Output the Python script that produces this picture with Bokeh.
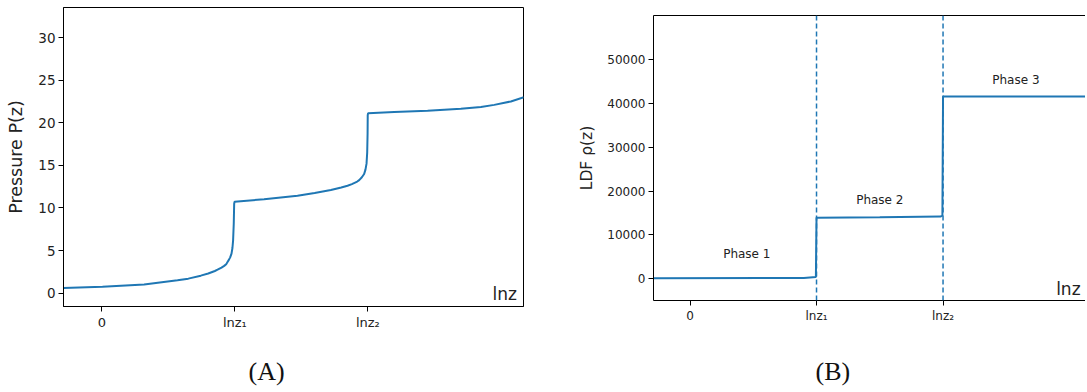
from bokeh.plotting import figure
from bokeh.layouts import row, column
from bokeh.models import FixedTicker, Span, Label, LinearAxis, Range1d, Title
from bokeh.embed import file_html
from bokeh.resources import INLINE
from bokeh.core.properties import value

# ---------------- data ----------------
# x positions expressed in tick units: 0, lnz1, lnz2
x_tick_values = [0, 1, 2]
x_tick_labels = ["0", "lnz\u2081", "lnz\u2082"]

# Panel A: pressure P(z)
a_x = [-0.288, 0.005, 0.318, 0.569, 0.650, 0.744, 0.800, 0.850, 0.870, 0.900,
       0.920, 0.935, 0.945, 0.955, 0.965, 0.975, 0.982, 0.987, 0.992, 0.995,
       0.998, 1.220, 1.471, 1.600, 1.722, 1.800, 1.847, 1.880, 1.900, 1.920,
       1.935, 1.955, 1.972, 1.982, 1.990, 1.995, 1.998, 1.999, 2.002, 2.198,
       2.449, 2.699, 2.850, 2.950, 3.075, 3.173]
a_p = [0.59, 0.75, 1.02, 1.50, 1.70, 2.05, 2.30, 2.60, 2.75, 3.00,
       3.20, 3.40, 3.65, 3.90, 4.20, 4.64, 5.30, 6.20, 8.20, 10.50,
       10.72, 11.03, 11.43, 11.75, 12.10, 12.40, 12.60, 12.80, 12.95, 13.10,
       13.27, 13.60, 13.98, 14.50, 15.20, 16.50, 18.80, 20.90, 21.13, 21.25,
       21.40, 21.64, 21.85, 22.10, 22.50, 23.00]
a_y_ticks = [0, 5, 10, 15, 20, 25, 30]

# Panel B: LDF rho(z)
b_x = [-0.286, 0.900, 0.995, 1.000, 1.500, 1.980, 1.995, 2.000, 3.200]
b_rho = [150, 200, 400, 13950, 14050, 14200, 14400, 41600, 41600]
b_y_ticks = [0, 10000, 20000, 30000, 40000, 50000]
phase_names = ["Phase 1", "Phase 2", "Phase 3"]
phase_x = [0.449, 1.50, 2.576]
phase_y = [5550, 17900, 45400]
transition_x = [1, 2]

BLUE = "#1f77b4"
TXT = "#222222"
FONT = "DejaVu Sans"
SERIF = "Liberation Serif"


def style_axis(ax, size):
    ax.major_tick_out = 5
    ax.major_tick_in = 0
    ax.minor_tick_out = 0
    ax.minor_tick_in = 0
    ax.axis_line_color = "black"
    ax.major_tick_line_color = "black"
    ax.major_label_text_color = TXT
    ax.major_label_text_font = FONT
    ax.major_label_text_font_size = size
    ax.major_label_standoff = 3
    ax.axis_label_text_font = FONT
    ax.axis_label_text_font_style = "normal"
    ax.axis_label_text_color = TXT


def spacer_axis(depth):
    # invisible axis used only to push the caption down
    return LinearAxis(ticker=FixedTicker(ticks=[1]), major_tick_out=depth,
                      major_tick_in=0, minor_tick_out=0, minor_tick_in=0,
                      major_label_standoff=0, major_tick_line_alpha=0,
                      axis_line_alpha=0, major_label_overrides={1: ""},
                      major_label_text_font_size="0px")


# ---------------- Panel A ----------------
pA = figure(width=560, height=390, output_backend="svg", toolbar_location=None,
            x_range=Range1d(-0.288, 3.17), y_range=Range1d(-1.57, 33.53),
            min_border_left=63, min_border_right=37, min_border_top=7,
            min_border_bottom=84)
pA.outline_line_color = "black"
pA.outline_line_alpha = 1
pA.xgrid.visible = False
pA.ygrid.visible = False
pA.line(a_x, a_p, line_color=BLUE, line_width=2)
style_axis(pA.xaxis[0], "13px")
style_axis(pA.yaxis[0], "13.5px")
pA.xaxis[0].ticker = FixedTicker(ticks=x_tick_values)
pA.xaxis[0].major_label_overrides = dict(zip(x_tick_values, x_tick_labels))
pA.yaxis[0].ticker = FixedTicker(ticks=a_y_ticks)
pA.yaxis[0].axis_label = "Pressure P(z)"
pA.yaxis[0].axis_label_text_font_size = "17.5px"
pA.yaxis[0].axis_label_standoff = 9
pA.add_layout(Label(x=3.12, y=-0.05, text="lnz", text_align="right",
                    text_baseline="alphabetic", text_font=FONT,
                    text_font_size="17px", text_color=TXT))
pA.add_layout(spacer_axis(18), "below")
pA.add_layout(Title(text="(A)", align="left", offset=185, standoff=8,
                    text_font=SERIF, text_font_size="26px",
                    text_font_style="normal", text_color="#111111"), "below")

# ---------------- Panel B ----------------
pB = figure(width=525, height=390, output_backend="svg", toolbar_location=None,
            x_range=Range1d(-0.2885, 3.126), y_range=Range1d(-4950, 60050),
            min_border_left=93, min_border_right=0, min_border_top=15,
            min_border_bottom=90)
pB.outline_line_color = None
pB.xgrid.visible = False
pB.ygrid.visible = False
pB.line(b_x, b_rho, line_color=BLUE, line_width=2)
for xv in transition_x:
    pB.add_layout(Span(location=xv, dimension="height", line_color=BLUE,
                       line_dash="5 3", line_width=1.5))
style_axis(pB.xaxis[0], "12px")
style_axis(pB.yaxis[0], "12px")
pB.xaxis[0].ticker = FixedTicker(ticks=x_tick_values)
pB.xaxis[0].major_label_overrides = dict(zip(x_tick_values, x_tick_labels))
pB.yaxis[0].ticker = FixedTicker(ticks=b_y_ticks)
pB.yaxis[0].axis_label = "LDF \u03c1(z)"
pB.yaxis[0].axis_label_text_font_size = "15.5px"
pB.yaxis[0].axis_label_standoff = 8
top = LinearAxis(ticker=FixedTicker(ticks=[]), major_tick_out=0, major_tick_in=0,
                 minor_tick_out=0, minor_tick_in=0, major_label_standoff=0,
                 major_label_text_font_size="0px", axis_line_color="black")
pB.add_layout(top, "above")
pB.text(phase_x, phase_y, text=phase_names, text_align="center",
        text_baseline="middle", text_font=value(FONT), text_font_size="12px",
        text_color=TXT)
pB.add_layout(Label(x=3.087, y=-2280, text="lnz", text_align="right",
                    text_baseline="alphabetic", text_font=FONT,
                    text_font_size="17px", text_color=TXT))
pB.add_layout(spacer_axis(25), "below")
pB.add_layout(Title(text="(B)", align="left", offset=162, standoff=9,
                    text_font=SERIF, text_font_size="26px",
                    text_font_style="normal", text_color="#111111"), "below")

layout = row(column(pA), column(pB))
open("out.html", "w").write(file_html(layout, INLINE))
